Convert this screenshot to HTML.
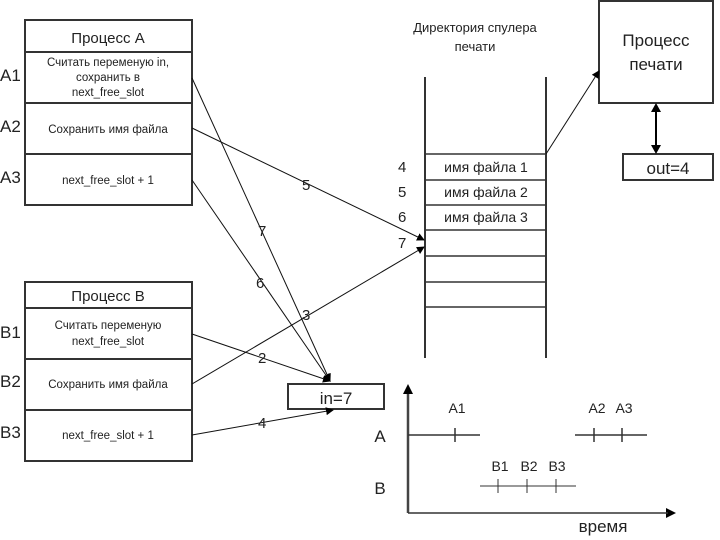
<!DOCTYPE html>
<html><head><meta charset="utf-8"><style>
body{margin:0;background:#fff}
svg{display:block}
text{font-family:"Liberation Sans",sans-serif;fill:#222}
</style></head><body>
<svg width="720" height="540" viewBox="0 0 720 540" xmlns="http://www.w3.org/2000/svg">
<defs><marker id="ar" markerWidth="8" markerHeight="8" refX="7" refY="4" orient="auto" markerUnits="userSpaceOnUse"><path d="M0,0 L8,4 L0,8z" fill="#000"/></marker></defs>
<g stroke="#333" fill="none" stroke-width="2">
<rect x="25" y="20" width="167" height="185"/>
<line x1="25" y1="52" x2="192" y2="52"/><line x1="25" y1="103" x2="192" y2="103"/><line x1="25" y1="154" x2="192" y2="154"/>
<rect x="25" y="282" width="167" height="179"/>
<line x1="25" y1="308" x2="192" y2="308"/><line x1="25" y1="359" x2="192" y2="359"/><line x1="25" y1="410" x2="192" y2="410"/>
<rect x="288" y="384" width="96" height="25"/>
<rect x="599" y="1" width="114" height="102"/>
<rect x="623" y="154" width="90" height="26"/>
<line x1="425" y1="77" x2="425" y2="358"/><line x1="546" y1="77" x2="546" y2="358"/>
</g>
<g stroke="#333" stroke-width="1.5">
<line x1="425" y1="154" x2="546" y2="154"/><line x1="425" y1="180" x2="546" y2="180"/><line x1="425" y1="205" x2="546" y2="205"/><line x1="425" y1="230" x2="546" y2="230"/><line x1="425" y1="256" x2="546" y2="256"/><line x1="425" y1="282" x2="546" y2="282"/><line x1="425" y1="307" x2="546" y2="307"/>
</g>
<g stroke="#111" stroke-width="1" fill="none">
<line x1="192" y1="78" x2="330" y2="381" marker-end="url(#ar)"/>
<line x1="192" y1="180" x2="330" y2="381" marker-end="url(#ar)"/>
<line x1="192" y1="334" x2="330" y2="381" marker-end="url(#ar)"/>
<line x1="192" y1="128" x2="424" y2="240" marker-end="url(#ar)"/>
<line x1="192" y1="384" x2="424" y2="247" marker-end="url(#ar)"/>
<line x1="192" y1="435" x2="333" y2="410" marker-end="url(#ar)"/>
<line x1="546" y1="154" x2="599" y2="71" marker-end="url(#ar)"/>
</g>
<g stroke="#000" stroke-width="2"><line x1="656" y1="108" x2="656" y2="149"/></g>
<path d="M656,103 l-5,9 h10z M656,154 l-5,-9 h10z" fill="#000"/>
<g stroke="#444" stroke-width="2.5"><line x1="408" y1="390" x2="408" y2="513"/></g>
<path d="M408,384 l-5,10 h10z M676,513 l-10,-5 v10z" fill="#000"/>
<g stroke="#333" stroke-width="1.5">
<line x1="408" y1="513" x2="668" y2="513"/>
<line x1="408" y1="435" x2="480" y2="435"/><line x1="455" y1="428" x2="455" y2="442"/>
<line x1="575" y1="435" x2="647" y2="435"/><line x1="594" y1="428" x2="594" y2="442"/><line x1="622" y1="428" x2="622" y2="442"/>
</g>
<g stroke="#333" stroke-width="1">
<line x1="480" y1="486" x2="576" y2="486"/><line x1="498" y1="479" x2="498" y2="493"/><line x1="527" y1="479" x2="527" y2="493"/><line x1="556" y1="479" x2="556" y2="493"/>
</g>
<g font-size="15" text-anchor="middle">
<text x="108" y="43">Процесс A</text>
<text x="108" y="301">Процесс B</text>
</g>
<g font-size="11.5" text-anchor="middle">
<text x="108" y="66">Считать переменую in,</text>
<text x="108" y="81">сохранить в</text>
<text x="108" y="96">next_free_slot</text>
<text x="108" y="133">Сохранить имя файла</text>
<text x="108" y="184">next_free_slot + 1</text>
<text x="108" y="329">Считать переменую</text>
<text x="108" y="345">next_free_slot</text>
<text x="108" y="388">Сохранить имя файла</text>
<text x="108" y="439">next_free_slot + 1</text>
</g>
<g font-size="17">
<text x="0" y="81">A1</text><text x="0" y="132">A2</text><text x="0" y="183">A3</text>
<text x="0" y="338">B1</text><text x="0" y="387">B2</text><text x="0" y="438">B3</text>
</g>
<g font-size="15">
<text x="398" y="172">4</text><text x="398" y="197">5</text><text x="398" y="222">6</text><text x="398" y="248">7</text>
<text x="302" y="190">5</text><text x="258" y="236">7</text><text x="256" y="288">6</text><text x="302" y="320">3</text><text x="258" y="363">2</text><text x="258" y="428">4</text>
</g>
<g font-size="13" text-anchor="middle">
<text x="475" y="32">Директория спулера</text>
<text x="475" y="51">печати</text>
</g>
<g font-size="14" text-anchor="middle">
<text x="486" y="172">имя файла 1</text><text x="486" y="197">имя файла 2</text><text x="486" y="222">имя файла 3</text>
</g>
<g font-size="17" text-anchor="middle">
<text x="656" y="46">Процесс</text><text x="656" y="70">печати</text>
<text x="668" y="174">out=4</text>
<text x="336" y="404">in=7</text>
<text x="380" y="442">A</text><text x="380" y="494">B</text>
<text x="603" y="532">время</text>
</g>
<g font-size="14" text-anchor="middle">
<text x="457" y="413">A1</text><text x="597" y="413">A2</text><text x="624" y="413">A3</text>
<text x="500" y="471">B1</text><text x="529" y="471">B2</text><text x="557" y="471">B3</text>
</g>
</svg>
</body></html>
